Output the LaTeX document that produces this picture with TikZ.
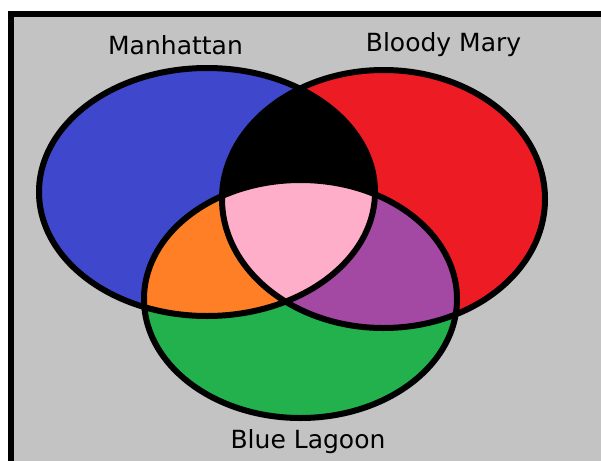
\documentclass[tikz,border=0pt]{standalone}
\usepackage{fontspec}
\setmainfont{DejaVu Sans}
\usepackage{xcolor}
\usepackage{tikz}
\usetikzlibrary{positioning}
\definecolor{panel}{RGB}{195,195,195}
\definecolor{mblue}{RGB}{63,72,204}
\definecolor{mred}{RGB}{237,28,36}
\definecolor{mgreen}{RGB}{34,177,76}
\definecolor{morange}{RGB}{255,127,39}
\definecolor{mpurple}{RGB}{163,73,164}
\definecolor{mpink}{RGB}{255,174,201}
\newcommand{\manhattan}{(207,192) ellipse [x radius=168pt, y radius=124pt]}
\newcommand{\bloodymary}{(383.5,199) ellipse [x radius=161.5pt, y radius=129pt]}
\newcommand{\bluelagoon}{(300.5,299) ellipse [x radius=156.5pt, y radius=119pt]}

\begin{document}
\begin{tikzpicture}[x=1pt,y=-1pt,
    lbl/.style={anchor=base,font=\fontsize{25}{30}\selectfont},
    rim/.style={draw=black,line width=6pt}]
  \useasboundingbox (0,0) rectangle (601,460);
  \fill[white] (0,0) rectangle (601,460);
  \clip (0,0) rectangle (601,460);
  \filldraw[fill=panel,rim] (10.5,14.5) rectangle (650,510);
  % one set each
  \fill[mblue] \manhattan;
  \fill[mred] \bloodymary;
  \fill[mgreen] \bluelagoon;
  % overlaps
  \begin{scope}
    \clip \manhattan;
    \fill[black] \bloodymary;
    \fill[morange] \bluelagoon;
  \end{scope}
  \begin{scope}
    \clip \bloodymary;
    \fill[mpurple] \bluelagoon;
  \end{scope}
  \begin{scope}
    \clip \manhattan;
    \clip \bloodymary;
    \fill[mpink] \bluelagoon;
  \end{scope}
  \draw[rim] \manhattan;
  \draw[rim] \bloodymary;
  \draw[rim] \bluelagoon;
  \node[lbl] (manh) at (175.5,54) {Manhattan};
  \node[lbl] (bmary) at (443.5,52) {Bloody Mary};
  \node[lbl] (blag) at (308,448) {Blue Lagoon};
\end{tikzpicture}
\end{document}
